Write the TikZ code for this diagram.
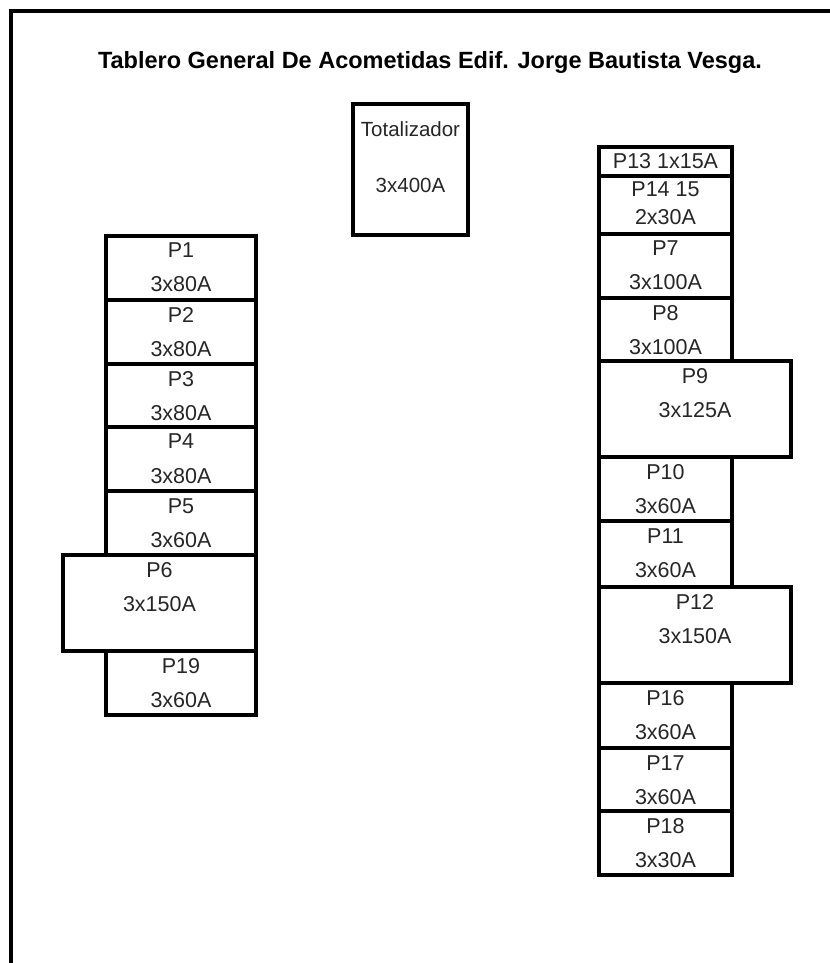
\documentclass[tikz,border=0pt]{standalone}
\usepackage{fontspec}
\setmainfont{Liberation Sans}
\usepackage{tikz}
\usetikzlibrary{positioning}
\tikzset{
  pnlnode/.style={rectangle,draw=black,line width=3.4bp,inner sep=0pt,outer sep=0pt,
    minimum width=150bp,minimum height=64bp},
  leftnode/.style={pnlnode,anchor=north east},
  rightnode/.style={pnlnode,anchor=north west,minimum width=133bp},
  widenode/.style={minimum width=193bp,minimum height=96bp},
  pnltext/.style={anchor=north,inner sep=7bp,align=center,text=black!85,
    font=\fontsize{21.5bp}{34bp}\selectfont},
  titletext/.style={inner sep=0pt,font=\bfseries\fontsize{23.5bp}{28bp}\selectfont},
  frameline/.style={line width=3.6bp,line join=miter},
}

\begin{document}
\begin{tikzpicture}[x=1bp,y=-1bp]
  \useasboundingbox (0,0) rectangle (830,963);
  \clip (0,0) rectangle (830,963);
  \draw[frameline] (11,990) |- (860,11);
  \node[titletext] (title) at (430,62) {Tablero General De Acometidas Edif. Jorge Bautista Vesga.};
  % totalizador
  \node[pnlnode,anchor=north west,minimum width=115bp,minimum height=131bp,
    label={[pnltext,inner sep=17bp,font=\fontsize{20.5bp}{56bp}\selectfont]north:{Totalizador\\3x400A}}] (tot) at (353,104) {};
  % left column
  \node[leftnode,label={[pnltext]north:{P1\\3x80A}}] (p1) at (256,236) {};
  \node[leftnode,label={[pnltext]north:{P2\\3x80A}}] (p2) at (p1.south east) {};
  \node[leftnode,minimum height=63bp,label={[pnltext]north:{P3\\3x80A}}] (p3) at (p2.south east) {};
  \node[leftnode,label={[pnltext]north:{P4\\3x80A}}] (p4) at (p3.south east) {};
  \node[leftnode,label={[pnltext]north:{P5\\3x60A}}] (p5) at (p4.south east) {};
  \node[leftnode,widenode,label={[pnltext]north:{P6\\3x150A}}] (p6) at (p5.south east) {};
  \node[leftnode,label={[pnltext]north:{P19\\3x60A}}] (p19) at (p6.south east) {};
  % right column
  \node[rightnode,minimum height=29bp,label={[pnltext,inner sep=6bp]north:{P13 1x15A}}] (p13) at (599,147) {};
  \node[rightnode,minimum height=58bp,
    label={[pnltext,inner sep=6bp,font=\fontsize{21.5bp}{28bp}\selectfont]north:{P14 15\\2x30A}}] (p14) at (p13.south west) {};
  \node[rightnode,label={[pnltext]north:{P7\\3x100A}}] (p7) at (p14.south west) {};
  \node[rightnode,minimum height=63bp,label={[pnltext]north:{P8\\3x100A}}] (p8) at (p7.south west) {};
  \node[rightnode,widenode,minimum width=192bp,label={[pnltext]north:{P9\\3x125A}}] (p9) at (p8.south west) {};
  \node[rightnode,label={[pnltext]north:{P10\\3x60A}}] (p10) at (p9.south west) {};
  \node[rightnode,minimum height=66bp,label={[pnltext]north:{P11\\3x60A}}] (p11) at (p10.south west) {};
  \node[rightnode,widenode,minimum width=192bp,label={[pnltext]north:{P12\\3x150A}}] (p12) at (p11.south west) {};
  \node[rightnode,minimum height=65bp,label={[pnltext]north:{P16\\3x60A}}] (p16) at (p12.south west) {};
  \node[rightnode,minimum height=63bp,label={[pnltext]north:{P17\\3x60A}}] (p17) at (p16.south west) {};
  \node[rightnode,label={[pnltext]north:{P18\\3x30A}}] (p18) at (p17.south west) {};
\end{tikzpicture}
\end{document}
